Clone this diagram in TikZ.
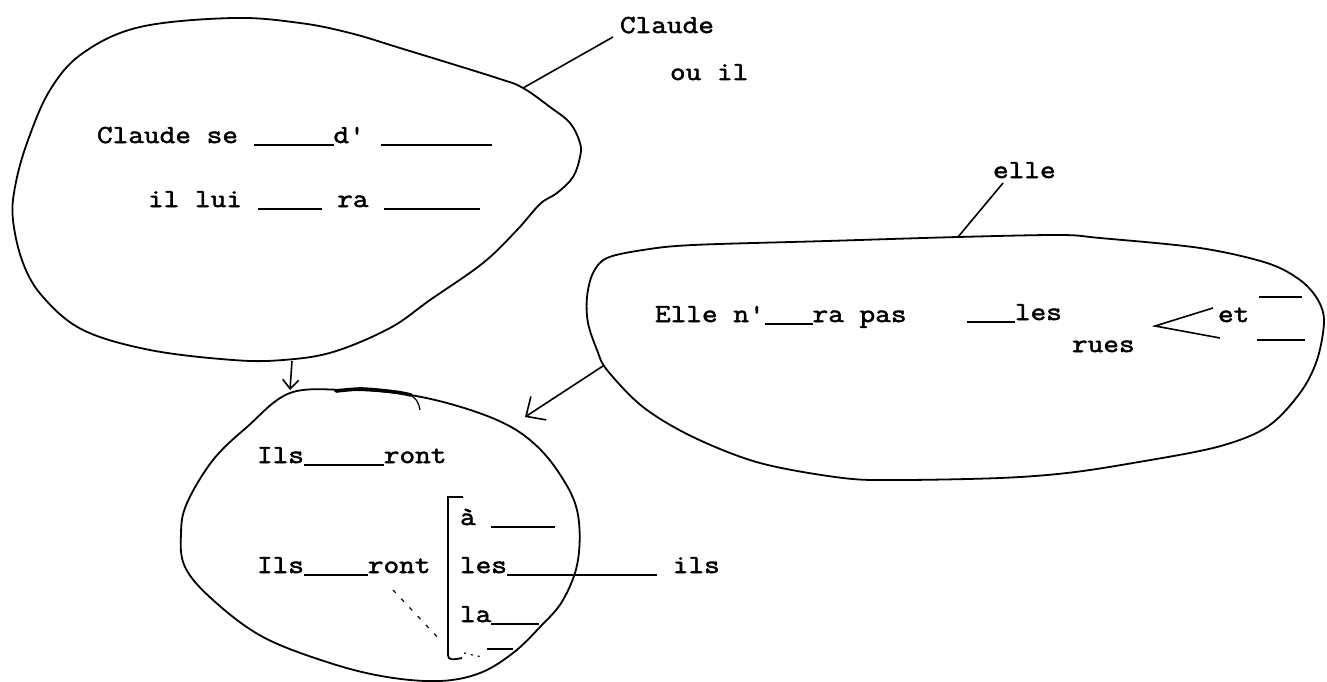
\documentclass[tikz,border=0pt]{standalone}
\usepackage{fontspec}
\setmonofont{Latin Modern Mono}[FakeStretch=1.17, FakeBold=2]
\usetikzlibrary{arrows.meta}
% one typed blank is a rule as wide as n characters of the typewriter face
\newlength\blankunit
\setlength\blankunit{15.97pt}
\newcommand\fillin[1]{\rule[-2.6pt]{#1\blankunit}{1.6pt}}
\begin{document}
\begin{tikzpicture}[x=1pt,y=-1pt,
  outline/.style={line width=1.8pt, line join=round},
  link/.style={line width=1.6pt},
  typed/.style={font=\fontsize{26}{30}\selectfont\ttfamily, anchor=base west, inner sep=0pt, outer sep=0pt},
  smallhead/.style={-{Straight Barb[length=9pt,width=16pt]}},
  bighead/.style={-{Straight Barb[length=15pt,width=28pt]}}]
\useasboundingbox (0,0) rectangle (1327,682);

% --- left bubble
\draw[outline] plot[smooth cycle, tension=0.6] coordinates {
  (233,18) (300,23) (350,33) (400,48) (497,78) (523,88) (550,107) (570,123)
  (580,143) (580,157) (573,177) (557,193) (540,204) (517,230) (483,263)
  (430,300) (390,328) (333,352) (283,360) (233,360) (150,350) (83,330)
  (43,297) (23,263) (13,220) (15,187) (27,143) (50,90) (83,53) (140,27)};

% --- lower bubble
\draw[outline] plot[smooth cycle, tension=0.6] coordinates {
  (290,393) (347,390) (397,393) (447,403) (497,420) (530,440) (557,470)
  (577,510) (578,560) (563,600) (540,627) (513,653) (480,673) (440,681)
  (387,677) (330,663) (263,637) (213,600) (185,567) (181,533) (187,503)
  (213,460) (247,427)};
\draw[line width=3.6pt, line cap=round] plot[smooth] coordinates {(336,391) (362,389) (395,392) (411,395)};
\draw[line width=1.2pt] (408,394) .. controls (416,397) and (419,403) .. (420,410);

% --- right bubble
\draw[outline] plot[smooth cycle, tension=0.55] coordinates {
  (607,258) (643,250) (693,245) (827,241) (958,237) (1060,235) (1100,238)
  (1200,248) (1267,263) (1300,280) (1318,300) (1324,322) (1317,360)
  (1300,393) (1267,427) (1217,447) (1133,463) (1067,473) (1000,478)
  (900,480) (843,478) (760,463) (693,437) (643,407) (607,370) (597,350)
  (588,323) (587,297) (593,273)};

% --- labels outside the bubbles
\node[typed] (claudeTag) at (620,33) {Claude};
\node[typed] (ouIl) at (670,80) {ou il};
\node[typed] (elleTag) at (993,178) {elle};

% --- left bubble text
\node[typed] (leftA) at (97,143) {Claude se \fillin{5}d' \fillin{7}};
\node[typed] (leftB) at (148,207) {il lui \fillin{4} ra \fillin{6}};

% --- right bubble text
\node[typed] (rightA) at (655,322) {Elle n'\fillin{3}ra pas};
\node[typed] (rightB) at (967,320) {\fillin{3}les};
\node[typed] (rightC) at (1072,352) {rues};
\node[typed] (rightEt) at (1218,322) {et};
\node[typed] (rightUp) at (1259,295) {\fillin{2.7}};
\node[typed] (rightDown) at (1257,338) {\fillin{3}};

% --- lower bubble text
\node[typed] (lowA) at (257,463) {Ils\fillin{5}ront};
\node[typed] (lowB) at (257,573) {Ils\fillin{4}ront};
\node[typed] (optA) at (460,525) {à \fillin{4}};
\node[typed] (optB) at (460,573) {les\fillin{9.4} ils};
\node[typed] (optC) at (460,622) {la\fillin{3}};
\node[typed] (optD) at (487,647) {\fillin{1.6}};

% bracket grouping the options
\coordinate (brTop) at (448,497);
\coordinate (brBot) at (448,655);
\draw[line width=1.8pt] (463,497) -- (brTop) -- (brBot) .. controls (448,660) and (452,660) .. (462,658);

% dashed guide from the second sentence to the last blank
\coordinate (dashA) at (393,590);
\coordinate (dashB) at (442,642);
\draw[line width=1.2pt, dash pattern=on 4pt off 8pt] (dashA) -- (dashB);
\coordinate (dotA) at (464,653);
\coordinate (dotB) at (482,657);
\draw[line width=1.2pt, dash pattern=on 2pt off 5pt] (dotA) -- (dotB);

% fork before "et"
\coordinate (forkTip) at (1155,326);
\coordinate (forkUp) at (1213,308);
\coordinate (forkDown) at (1220,338);
\draw[link] (forkUp) -- (forkTip) -- (forkDown);

% --- connectors
\coordinate (claudeFoot) at (613,37);
\coordinate (leftJoin) at (523,88);
\draw[link] (claudeFoot) -- (leftJoin);

\coordinate (elleFoot) at (1003,183);
\coordinate (rightJoin) at (958,237);
\draw[link] (elleFoot) -- (rightJoin);

\coordinate (leftOut) at (292,361);
\coordinate (lowIn) at (290,390);
\draw[link, smallhead] (leftOut) -- (lowIn);

\coordinate (rightOut) at (603,366);
\coordinate (lowSide) at (525,417);
\draw[link, bighead] (rightOut) -- (lowSide);
\end{tikzpicture}
\end{document}
